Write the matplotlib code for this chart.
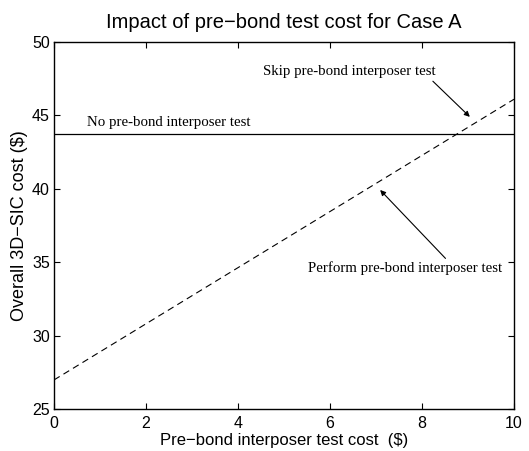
import numpy as np
import matplotlib.pyplot as plt

# Daten
test_cost = [0, 10]
cost_no_test = [43.73, 43.73]
cost_with_test = [26.98, 46.1]

plt.rcParams['font.family'] = ['Liberation Sans', 'DejaVu Sans']

fig = plt.figure(figsize=(5.29, 4.51), dpi=100)
ax = fig.add_axes([54/529, 1 - 409/451, 460/529, 367/451])

ax.plot(test_cost, cost_no_test, 'k-', linewidth=0.9)
ax.plot(test_cost, cost_with_test, 'k--', linewidth=0.8, dashes=(6, 4))

ax.set_xlim(0, 10)
ax.set_ylim(25, 50)
ax.set_xticks([0, 2, 4, 6, 8, 10])
ax.set_yticks([25, 30, 35, 40, 45, 50])
ax.tick_params(direction='in', top=True, right=True, labelsize=11.5, length=4)
ax.tick_params(axis='x', pad=5)
ax.tick_params(axis='y', pad=3)
for s in ax.spines.values():
    s.set_linewidth(1.0)

ax.set_title('Impact of pre\u2212bond test cost for Case A', fontsize=14.5, pad=10)
ax.set_xlabel('Pre\u2212bond interposer test cost  ($)', fontsize=12, labelpad=1.5)
ax.set_ylabel('Overall 3D\u2212SIC cost ($)', fontsize=13, labelpad=3)

serif = ['Liberation Serif', 'DejaVu Serif']
ax.text(0.72, 44.05, 'No pre-bond interposer test', family=serif, fontsize=10.7,
        ha='left', va='bottom')
ax.annotate('Skip pre-bond interposer test', xy=(9.04, 44.9), xytext=(6.41, 47.96),
            family=serif, fontsize=10.7, ha='center', va='center',
            arrowprops=dict(arrowstyle='-|>', color='k', lw=0.8, shrinkA=0,
                            shrinkB=0, mutation_scale=8, relpos=(0.97, 0.0)))
ax.annotate('Perform pre-bond interposer test', xy=(7.09, 39.92), xytext=(7.64, 34.6),
            family=serif, fontsize=10.7, ha='center', va='center',
            arrowprops=dict(arrowstyle='-|>', color='k', lw=0.8, shrinkA=0,
                            shrinkB=0, mutation_scale=8, relpos=(0.72, 1.0)))

fig.savefig('out.png', dpi=100)
